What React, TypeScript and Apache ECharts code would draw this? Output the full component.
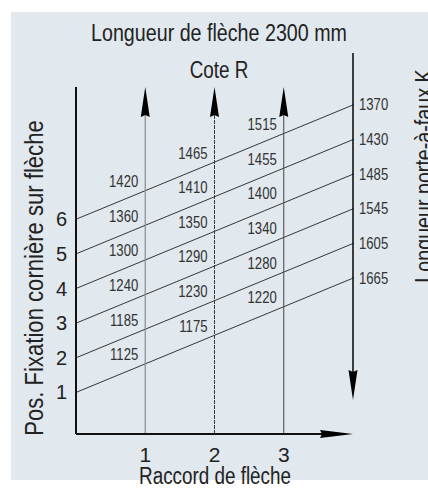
import React, { useEffect, useRef } from "react";
import * as echarts from "echarts";

// Fixation positions on the boom (left axis)
const positions = [1, 2, 3, 4, 5, 6];
// Cote R values at Raccord 1, 2, 3 (index = position - 1)
const coteR1 = [1125, 1185, 1240, 1300, 1360, 1420];
const coteR2 = [1175, 1230, 1290, 1350, 1410, 1465];
const coteR3 = [1220, 1280, 1340, 1400, 1455, 1515];
// Longueur porte-à-faux K read on right axis
const porteFauxK = [1665, 1605, 1545, 1485, 1430, 1370];
// Raccord ticks
const raccords = [1, 2, 3];
// rise of each nomogram line across the chart (in position units over 4 raccord units)
const RISE = 3.3;

const FONT = "'Liberation Sans', Arial, sans-serif";
const NARROW = 0.82;

const lineY = (k: number, x: number) => k + (RISE * x) / 4;

export default function App() {
  const ref = useRef<HTMLDivElement>(null);
  useEffect(() => {
    if (!ref.current) return;
    const chart = echarts.init(ref.current, undefined, { renderer: "svg" });
    const coteSeries = [coteR1, coteR2, coteR3];

    const guides = [
      { x1: 0, y1: -0.2, x2: 0, y2: 9.82, head: false, color: "#111", width: 2, dash: null as any },
      { x1: 1, y1: -0.2, x2: 1, y2: 9.82, head: true, color: "#8a8a8a", width: 1.2, dash: null },
      { x1: 2, y1: -0.2, x2: 2, y2: 9.82, head: true, color: "#3a3a3a", width: 1, dash: [4, 1] },
      { x1: 3, y1: -0.2, x2: 3, y2: 9.82, head: true, color: "#444", width: 1, dash: null },
      { x1: 4, y1: 10.8, x2: 4, y2: 0.78, head: true, color: "#111", width: 1.6, dash: null },
      { x1: 0, y1: -0.2, x2: 4, y2: -0.2, head: true, color: "#111", width: 2, dash: null, hl: 33, hw: 8 },
    ];

    const narrowText = (x: number, y: number, text: string, size: number, opts: any = {}) => ({
      type: "text",
      x,
      y,
      scaleX: opts.scaleX ?? NARROW,
      rotation: opts.rotation ?? 0,
      style: {
        text,
        font: `${size}px ${FONT}`,
        fill: "#222",
        textAlign: "center",
        textVerticalAlign: "middle",
      },
    });

    const labelItems: any[] = [];
    raccords.forEach((c, ci) =>
      positions.forEach((k, ki) => labelItems.push([c, lineY(k, c), coteSeries[ci][ki], 0]))
    );
    positions.forEach((k, ki) => labelItems.push([4, lineY(k, 4), porteFauxK[ki], 1]));

    const option: any = {
      animation: false,
      grid: { left: 76, right: 75, top: 53, bottom: 57, outerBoundsMode: "none", containLabel: false },
      xAxis: {
        type: "value",
        min: 0,
        max: 4,
        axisLine: { show: false },
        axisTick: { show: false },
        splitLine: { show: false },
        axisLabel: {
          customValues: raccords,
          fontFamily: FONT,
          fontSize: 21,
          color: "#222",
          margin: 10,
        },
      },
      yAxis: {
        type: "value",
        min: -0.2,
        max: 10.8,
        axisLine: { show: false },
        axisTick: { show: false },
        splitLine: { show: false },
        axisLabel: {
          customValues: positions,
          fontFamily: FONT,
          fontSize: 20,
          color: "#222",
          margin: 9,
        },
      },
      graphic: [
        {
          type: "rect",
          z: -100,
          silent: true,
          shape: { x: 11, y: 12, width: 417, height: 468 },
          style: { fill: "#e1e8ee" },
        },
        narrowText(219, 33, "Longueur de flèche 2300 mm", 24),
        narrowText(219, 70, "Cote R", 23),
        narrowText(215, 476, "Raccord de flèche", 23),
        narrowText(34, 278, "Pos. Fixation cornière sur flèche", 26, { rotation: Math.PI / 2, scaleX: 0.85 }),
        narrowText(424, 176, "Longueur porte-à-faux K", 24, { rotation: Math.PI / 2 }),
      ],
      series: [
        // nomogram lines
        ...positions.map((k) => ({
          type: "line",
          silent: true,
          symbol: "none",
          lineStyle: { color: "#222", width: 0.9 },
          data: [
            [-0.07, lineY(k, -0.07)],
            [4.05, lineY(k, 4.05)],
          ],
          z: 3,
        })),
        // guides / axes with arrows
        {
          type: "custom",
          silent: true,
          z: 4,
          data: guides.map((g, i) => [g.x1, g.y1, g.x2, g.y2, i]),
          renderItem: (params: any, api: any) => {
            const g = guides[api.value(4)];
            const p1 = api.coord([api.value(0), api.value(1)]);
            const p2 = api.coord([api.value(2), api.value(3)]);
            const dx = p2[0] - p1[0];
            const dy = p2[1] - p1[1];
            const len = Math.sqrt(dx * dx + dy * dy) || 1;
            const ux = dx / len;
            const uy = dy / len;
            const nx = -uy;
            const ny = ux;
            const hl = (g as any).hl || 30;
            const hw = (g as any).hw || 9;
            const children: any[] = [];
            const endX = g.head ? p2[0] - ux * hl * 0.5 : p2[0];
            const endY = g.head ? p2[1] - uy * hl * 0.5 : p2[1];
            children.push({
              type: "line",
              shape: { x1: p1[0], y1: p1[1], x2: endX, y2: endY },
              style: { stroke: g.color, lineWidth: g.width, lineDash: g.dash || undefined },
            });
            if (g.head) {
              const bx = p2[0] - ux * hl;
              const by = p2[1] - uy * hl;
              children.push({
                type: "polygon",
                shape: {
                  points: [
                    [p2[0], p2[1]],
                    [bx + (nx * hw) / 2, by + (ny * hw) / 2],
                    [bx + ux * 2, by + uy * 2],
                    [bx - (nx * hw) / 2, by - (ny * hw) / 2],
                  ],
                },
                style: { fill: "#000" },
              });
            }
            return { type: "group", children };
          },
        },
        // Cote R and porte-à-faux K labels
        {
          type: "custom",
          silent: true,
          z: 5,
          data: labelItems,
          renderItem: (params: any, api: any) => {
            const p = api.coord([api.value(0), api.value(1)]);
            const right = api.value(3) === 1;
            return {
              type: "text",
              x: right ? p[0] + 6 : p[0] - 7,
              y: right ? p[1] : p[1] - 9,
              scaleX: NARROW,
              style: {
                text: String(api.value(2)),
                font: `16px ${FONT}`,
                fill: "#333",
                textAlign: right ? "left" : "right",
                textVerticalAlign: "middle",
              },
            };
          },
        },
      ],
    };
    chart.setOption(option);
    return () => chart.dispose();
  }, []);
  return (
    <div
      ref={ref}
      style={{ position: "fixed", left: 0, top: 0, width: 428, height: 491, background: "#fff" }}
    />
  );
}
